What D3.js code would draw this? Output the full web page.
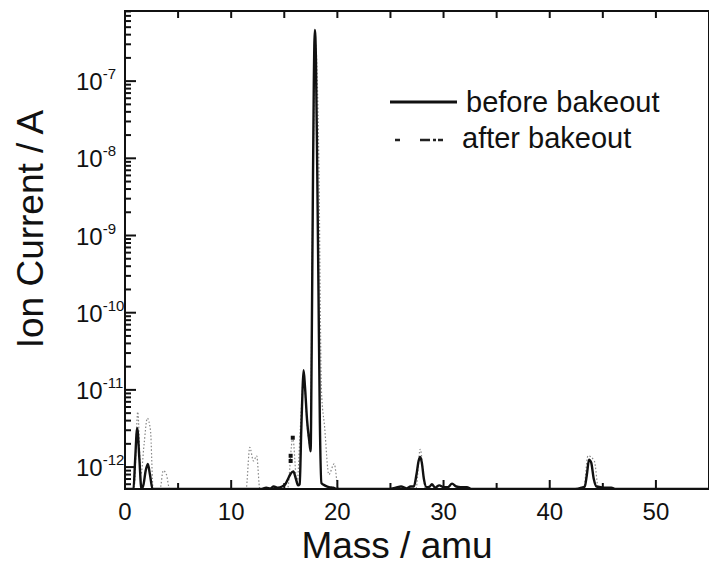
<!DOCTYPE html>
<html>
<head>
<meta charset="utf-8">
<script src="https://cdn.jsdelivr.net/npm/d3@7"></script>
<style>
  html, body { margin: 0; padding: 0; background: #fff; }
  svg { display: block; }
  text { font-family: "Liberation Sans", Arial, Helvetica, sans-serif; fill: #111; }
</style>
</head>
<body>
<svg id="chart" width="709" height="565"></svg>
<script>
// ---- data ----
const seriesNames = ["before bakeout", "after bakeout"];

const beforeMass = [0, 0.8, 0.95, 1.15, 1.35, 1.55, 1.75, 1.95, 2.15, 2.35, 2.6, 3.0,
  12.8, 13.3, 13.7, 14.0, 14.4, 14.8, 15.1, 15.35, 15.6, 15.85, 16.1, 16.3, 16.45,
  16.6, 16.72, 16.82, 16.95, 17.15, 17.35, 17.48, 17.58, 17.68, 17.78, 17.88, 17.98,
  18.1, 18.22, 18.35, 18.5, 18.8, 19.2, 19.6, 20.0, 20.4,
  24.9, 25.5, 26.0, 26.5, 26.9, 27.2, 27.45, 27.65, 27.8, 27.95, 28.15, 28.4, 28.7,
  28.9, 29.2, 29.6, 30.0, 30.4, 30.8, 31.2, 31.6, 32.2, 32.6,
  42.4, 43.0, 43.3, 43.5, 43.7, 43.9, 44.15, 44.4, 44.8, 45.2, 45.8, 46.2, 55];
const beforeCurrent = [4e-13, 4e-13, 1.2e-12, 3.2e-12, 1.3e-12, 4.5e-13, 6e-13, 9e-13, 1.1e-12, 8e-13, 4.5e-13, 4e-13,
  4e-13, 5.4e-13, 5.3e-13, 5.6e-13, 5.4e-13, 5.6e-13, 6e-13, 7e-13, 8.2e-13, 8.8e-13, 7e-13, 5.8e-13, 6e-13,
  3e-12, 1e-11, 1.8e-11, 1.1e-11, 4e-12, 2.2e-12, 1.6e-12, 3e-11, 2e-9, 9e-8, 4.6e-7, 2e-7,
  8e-9, 2e-10, 4e-12, 6.2e-13, 5.8e-13, 5.5e-13, 5.4e-13, 5.2e-13, 4e-13,
  4e-13, 5.4e-13, 5.6e-13, 5.3e-13, 5.6e-13, 5.6e-13, 8e-13, 1.2e-12, 1.35e-12, 1.15e-12, 7e-13, 5.5e-13, 5.6e-13,
  6e-13, 5.4e-13, 5.8e-13, 5.5e-13, 5.5e-13, 6.1e-13, 5.6e-13, 5.5e-13, 5.5e-13, 4e-13,
  4e-13, 5.4e-13, 5.6e-13, 8e-13, 1.25e-12, 1.15e-12, 7e-13, 5.6e-13, 5.5e-13, 5.4e-13, 5.4e-13, 4e-13, 4e-13];

const afterMass = [0, 0.85, 1.2, 1.5, 1.8, 2.1, 2.4, 2.65, 3.3, 3.6, 3.9, 4.2,
  11.4, 11.75, 12.1, 12.4, 12.7, 15.3, 15.8, 16.2, 16.5, 16.82, 17.2, 17.45,
  17.65, 17.95, 18.25, 18.5, 18.8, 19.2, 19.7, 20.1,
  27.4, 27.8, 28.3, 43.2, 43.6, 44.2, 44.6, 55];
const afterCurrent = [4e-13, 4e-13, 5.2e-12, 8e-13, 2e-12, 4.3e-12, 3e-12, 4.5e-13, 4e-13, 9e-13, 8e-13, 4e-13,
  4e-13, 1.8e-12, 1.2e-12, 1.4e-12, 4e-13, 4e-13, 2.4e-12, 6e-13, 3e-12, 1.4e-11, 3e-12, 1.8e-12,
  1e-9, 3e-7, 1e-8, 1e-11, 3.3e-12, 8e-13, 1.1e-12, 4e-13,
  4e-13, 1.7e-12, 4e-13, 4e-13, 1.4e-12, 1.2e-12, 4e-13, 4e-13];

const afterMarkerMass = [15.8, 15.6, 15.6];
const afterMarkerCurrent = [2.4e-12, 1.4e-12, 1.2e-12];

const xTickValues = [0, 10, 20, 30, 40, 50];
const xMinorValues = [5, 15, 25, 35, 45];
const yTickExponents = [-12, -11, -10, -9, -8, -7];

const xTitle = "Mass / amu";
const yTitle = "Ion Current / A";

// ---- layout ----
const svg = d3.select("#chart");
const pLeft = 125, pRight = 709, pTop = 11, pBottom = 489;

const x = d3.scaleLinear().domain([0, 55]).range([pLeft, pRight]);
const y = d3.scaleLog().domain([5.2e-13, 8.1e-7]).range([pBottom, pTop]).clamp(true);

const before = beforeMass.map((m, i) => [m, beforeCurrent[i]]);
const after = afterMass.map((m, i) => [m, afterCurrent[i]]);

const line = d3.line().x(d => x(d[0])).y(d => y(d[1])).curve(d3.curveMonotoneX);

svg.append("defs").append("clipPath").attr("id", "clip")
  .append("rect").attr("x", pLeft).attr("y", pTop).attr("width", pRight - pLeft).attr("height", pBottom - pTop);

// after bakeout (faint dotted)
svg.append("path").datum(after)
  .attr("clip-path", "url(#clip)")
  .attr("d", line)
  .attr("fill", "none")
  .attr("stroke", "#888")
  .attr("stroke-width", 1.2)
  .attr("stroke-dasharray", "1.5,2");

svg.selectAll("rect.marker").data(afterMarkerMass.map((m, i) => [m, afterMarkerCurrent[i]]))
  .enter().append("rect").attr("class", "marker")
  .attr("x", d => x(d[0]) - 2).attr("y", d => y(d[1]) - 2)
  .attr("width", 4).attr("height", 4).attr("fill", "#111");

// before bakeout (solid)
svg.append("path").datum(before)
  .attr("clip-path", "url(#clip)")
  .attr("d", line)
  .attr("fill", "none")
  .attr("stroke", "#111")
  .attr("stroke-width", 2.4)
  .attr("stroke-linejoin", "round");

// ---- axes (ticks drawn inward from the scales) ----
const yMajor = yTickExponents.map(e => Math.pow(10, e));
const yMinor = [];
for (let e = -13; e <= -7; e++) {
  for (let k = 2; k <= 9; k++) {
    const v = k * Math.pow(10, e);
    if (v >= y.domain()[0] && v <= y.domain()[1]) yMinor.push(v);
  }
}
const tk = svg.append("g");
function tickLine(cls, data, x1, x2, y1, y2) {
  tk.selectAll("line." + cls).data(data).enter().append("line").attr("class", cls)
    .attr("x1", x1).attr("x2", x2).attr("y1", y1).attr("y2", y2)
    .style("stroke", "#111").style("stroke-width", "2px");
}
tickLine("ymaj", yMajor, pLeft, pLeft + 11, d => y(d), d => y(d));
tickLine("ymin", yMinor, pLeft, pLeft + 6, d => y(d), d => y(d));
tickLine("xmaj", xTickValues, d => x(d), d => x(d), pBottom, pBottom - 9);
tickLine("xmin", xMinorValues, d => x(d), d => x(d), pBottom, pBottom - 6);
tickLine("xtop", xTickValues.concat(xMinorValues), d => x(d), d => x(d), pTop, pTop + 7);

// frame
svg.append("rect").attr("x", pLeft).attr("y", pTop).attr("width", pRight - pLeft).attr("height", pBottom - pTop)
  .attr("fill", "none").attr("stroke", "#111").attr("stroke-width", 2);

// tick labels
svg.selectAll("text.xt").data(xTickValues).enter().append("text")
  .attr("class", "xt")
  .attr("x", d => x(d)).attr("y", pBottom + 31)
  .attr("text-anchor", "middle")
  .style("font-size", "24px")
  .text(d => d);

const yl = svg.selectAll("text.yt").data(yTickExponents).enter().append("text")
  .attr("class", "yt")
  .attr("x", 76).attr("y", d => y(Math.pow(10, d)) + 9)
  .attr("text-anchor", "start")
  .style("font-size", "24px");
yl.append("tspan").text("10");
yl.append("tspan").attr("dy", -11).style("font-size", "15px").text(d => "-" + (-d));

// axis titles
svg.append("text").attr("x", 397).attr("y", 558).attr("text-anchor", "middle")
  .style("font-size", "37px").text(xTitle);
svg.append("text").attr("transform", "translate(43,229) rotate(-90)")
  .attr("text-anchor", "middle").style("font-size", "37px").text(yTitle);

// legend
const lg = svg.append("g");
lg.append("line").attr("x1", 390).attr("x2", 457).attr("y1", 102).attr("y2", 102)
  .attr("stroke", "#111").attr("stroke-width", 3);
lg.append("text").attr("x", 466).attr("y", 112).style("font-size", "29px").text(seriesNames[0]);
lg.append("line").attr("x1", 395).attr("x2", 458).attr("y1", 140).attr("y2", 140)
  .attr("stroke", "#222").attr("stroke-width", 2.5).attr("stroke-dasharray", "5,20,10,3,3,2");
lg.append("text").attr("x", 462).attr("y", 148).style("font-size", "29px").text(seriesNames[1]);
</script>
</body>
</html>
